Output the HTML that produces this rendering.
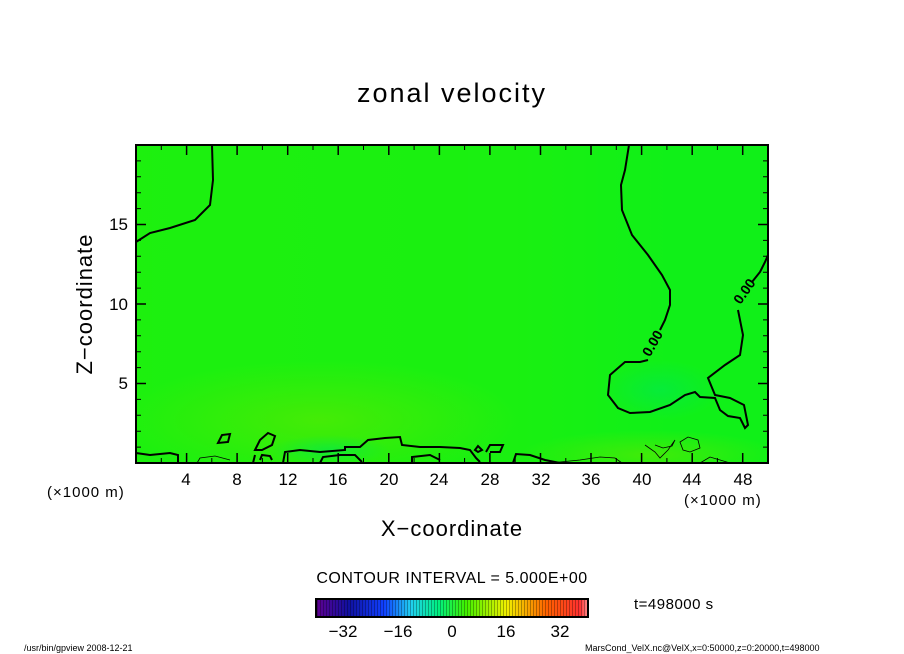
<!DOCTYPE html>
<html><head><meta charset="utf-8"><style>
body{margin:0;background:#fff}
svg{display:block}
text{font-family:"Liberation Sans",sans-serif;fill:#000}
</style></head><body>
<svg width="904" height="654" viewBox="0 0 904 654" xmlns="http://www.w3.org/2000/svg">
<defs>
<linearGradient id="cb" x1="0" x2="1">
<stop offset="0" stop-color="#600090"/><stop offset="0.12" stop-color="#1010a0"/><stop offset="0.25" stop-color="#1040ff"/><stop offset="0.35" stop-color="#20d0f0"/><stop offset="0.45" stop-color="#00f080"/><stop offset="0.55" stop-color="#40f000"/><stop offset="0.7" stop-color="#f0f000"/><stop offset="0.85" stop-color="#ff6000"/><stop offset="0.97" stop-color="#ff3030"/><stop offset="1" stop-color="#ff9090"/>
</linearGradient>
<linearGradient id="lr" x1="0" x2="1">
<stop offset="0" stop-color="#30f000" stop-opacity="0.4"/><stop offset="0.6" stop-color="#30f000" stop-opacity="0.3"/><stop offset="0.85" stop-color="#30f000" stop-opacity="0"/>
</linearGradient>
<pattern id="stripes" width="3" height="10" patternUnits="userSpaceOnUse"><rect x="2" width="1" height="10" fill="#000" opacity="0.6"/></pattern>
<radialGradient id="y1" cx="0.5" cy="0.5" r="0.5"><stop offset="0" stop-color="#60e800" stop-opacity="0.6"/><stop offset="1" stop-color="#60e800" stop-opacity="0"/></radialGradient>
<radialGradient id="g1" cx="0.5" cy="0.5" r="0.5"><stop offset="0" stop-color="#00e850" stop-opacity="0.6"/><stop offset="1" stop-color="#00e850" stop-opacity="0"/></radialGradient>
<clipPath id="pc"><rect x="136" y="145" width="632" height="318"/></clipPath>
</defs>
<text x="452" y="102" font-size="27" text-anchor="middle" letter-spacing="2">zonal velocity</text>
<g clip-path="url(#pc)">
<rect x="136" y="145" width="632" height="318" fill="#10f018"/>
<rect x="136" y="145" width="632" height="318" fill="url(#lr)"/>
<ellipse cx="320" cy="420" rx="200" ry="60" fill="url(#y1)"/>
<ellipse cx="650" cy="455" rx="130" ry="25" fill="url(#y1)"/>
<ellipse cx="660" cy="390" rx="60" ry="30" fill="url(#g1)"/>
<ellipse cx="330" cy="450" rx="60" ry="15" fill="url(#g1)"/>
</g>
<g fill="none" stroke="#000" stroke-width="2">
<path d="M212 145 L213 180 L210 205 L195 220 L170 228 L150 233 L136 242"/>
<path d="M629 145 L625 170 L621 185 L622 210 L632 235 L648 255 L662 275 L670 290 L670 305 L665 320 L660 330"/>
<path d="M648 360 L640 362 L625 362 L610 375 L608 395 L618 408 L630 413 L650 412 L670 405 L685 395 L695 392 L700 397 L715 398 L720 410 L728 416 L740 418 L745 428 L748 425 L744 405 L730 398 L715 395 L708 378 L725 365 L740 355 L743 335 L738 310"/>
<path d="M752 282 L760 272 L765 262 L768 255"/>
<path d="M136 453 L150 455 L170 453 L178 455 L178 462"/>
<path d="M260 460 L262 455 L270 456 L272 460"/>
<path d="M255 450 L260 440 L268 433 L275 436 L272 445 L262 450 Z"/>
<path d="M218 443 L222 435 L230 434 L228 442 Z"/>
<path d="M253 463 L255 455 M283 463 L285 452 L300 450 L320 452 L345 450 L345 447 L360 447 L368 440 L385 438 L400 437 L402 445 L420 447 L440 447 L460 448 L470 450 L476 458 L480 462"/>
<path d="M320 463 L323 457 L340 455 L355 455 L362 462"/>
<path d="M412 463 L412 457 L430 455 L440 460"/>
<path d="M475 450 L478 446 L482 450 L478 452 Z"/>
<path d="M486 452 L490 445 L503 445 L500 452 L490 452"/>
<path d="M513 463 L516 454 L530 455 L545 460 L560 463"/>
</g>
<g fill="none" stroke="#000" stroke-width="0.8">
<path d="M550 463 L580 460 L600 457 L615 458 L622 463"/>
<path d="M645 445 L655 452 L660 458 L668 450 L675 440 L672 446 L663 448 L655 445"/>
<path d="M680 442 L688 437 L698 440 L700 448 L690 452 L683 450 Z"/>
<path d="M197 463 L200 458 L215 456 L230 460"/>
<path d="M700 463 L710 457 L720 460 L730 463"/>
</g>
<g transform="rotate(-60 653 342)"><text x="638" y="347" font-size="14" font-weight="bold">0.00</text></g>
<g transform="rotate(-55 745 290)"><text x="730" y="295" font-size="14" font-weight="bold">0.00</text></g>
<rect x="136" y="145" width="632" height="318" fill="none" stroke="#000" stroke-width="2"/>
<g stroke="#000" stroke-width="1.5">
<path d="M186.6 463v-10M237.1 463v-10M287.7 463v-10M338.2 463v-10M388.8 463v-10M439.4 463v-10M489.9 463v-10M540.5 463v-10M591 463v-10M641.6 463v-10M692.2 463v-10M742.7 463v-10
M186.6 145v10M237.1 145v10M287.7 145v10M338.2 145v10M388.8 145v10M439.4 145v10M489.9 145v10M540.5 145v10M591 145v10M641.6 145v10M692.2 145v10M742.7 145v10"/>
<path stroke-width="1" d="M161.3 463v-5M211.8 463v-5M262.4 463v-5M313 463v-5M363.5 463v-5M414.1 463v-5M464.6 463v-5M515.2 463v-5M565.8 463v-5M616.3 463v-5M666.9 463v-5M717.4 463v-5
M161.3 145v5M211.8 145v5M262.4 145v5M313 145v5M363.5 145v5M414.1 145v5M464.6 145v5M515.2 145v5M565.8 145v5M616.3 145v5M666.9 145v5M717.4 145v5"/>
<path d="M136 383.5h10M136 304h10M136 224.5h10M768 383.5h-10M768 304h-10M768 224.5h-10"/>
<path stroke-width="1" d="M136 447.1h5M136 431.2h5M136 415.3h5M136 399.4h5M136 367.6h5M136 351.7h5M136 335.8h5M136 319.9h5M136 288.1h5M136 272.2h5M136 256.3h5M136 240.4h5M136 208.6h5M136 192.7h5M136 176.8h5M136 160.9h5
M768 447.1h-5M768 431.2h-5M768 415.3h-5M768 399.4h-5M768 367.6h-5M768 351.7h-5M768 335.8h-5M768 319.9h-5M768 288.1h-5M768 272.2h-5M768 256.3h-5M768 240.4h-5M768 208.6h-5M768 192.7h-5M768 176.8h-5M768 160.9h-5"/>
</g>
<g font-size="17" text-anchor="middle">
<text x="186" y="485">4</text><text x="237" y="485">8</text><text x="288" y="485">12</text><text x="338" y="485">16</text><text x="389" y="485">20</text><text x="439" y="485">24</text><text x="490" y="485">28</text><text x="541" y="485">32</text><text x="591" y="485">36</text><text x="642" y="485">40</text><text x="692" y="485">44</text><text x="743" y="485">48</text>
</g>
<g font-size="17" text-anchor="end">
<text x="128" y="389">5</text><text x="128" y="310">10</text><text x="128" y="230">15</text>
</g>
<text x="47" y="497" font-size="15" letter-spacing="1">(×1000 m)</text>
<text x="684" y="505" font-size="15" letter-spacing="1">(×1000 m)</text>
<text x="452" y="536" font-size="22" text-anchor="middle" letter-spacing="1">X−coordinate</text>
<text transform="translate(92 304) rotate(-90)" font-size="22" text-anchor="middle" letter-spacing="1">Z−coordinate</text>
<text x="452" y="583" font-size="16" text-anchor="middle" letter-spacing="0.5">CONTOUR INTERVAL = 5.000E+00</text>
<rect x="316" y="599" width="272" height="18" fill="url(#cb)"/>
<rect x="316" y="599" width="272" height="18" fill="url(#stripes)" opacity="0.5"/>
<rect x="316" y="599" width="272" height="18" fill="none" stroke="#000" stroke-width="2"/>
<g font-size="17" text-anchor="middle">
<text x="343" y="637">−32</text><text x="398" y="637">−16</text><text x="452" y="637">0</text><text x="506" y="637">16</text><text x="560" y="637">32</text>
</g>
<text x="634" y="609" font-size="15" letter-spacing="0.5">t=498000 s</text>
<text x="24" y="651" font-size="9">/usr/bin/gpview  2008-12-21</text>
<text x="585" y="651" font-size="9">MarsCond_VelX.nc@VelX,x=0:50000,z=0:20000,t=498000</text>
</svg>
</body></html>
